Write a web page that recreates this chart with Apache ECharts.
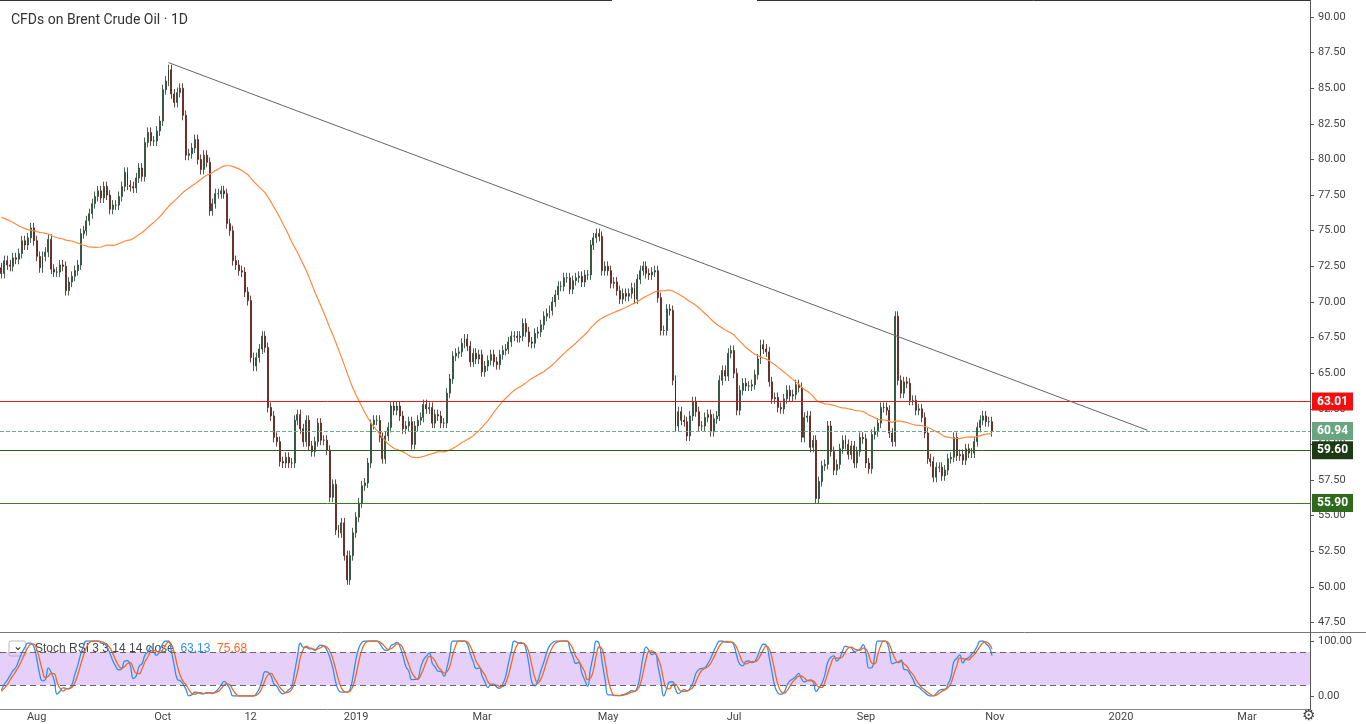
<!DOCTYPE html>
<html>
<head>
<meta charset="utf-8">
<script src="https://cdn.jsdelivr.net/npm/echarts@6/dist/echarts.min.js"></script>
<style>html,body{margin:0;padding:0;background:#fff}#c{width:1366px;height:724px}</style>
</head>
<body>
<div id="c"></div>
<script>
// closes before the visible range (only used to warm up the MA and the Stoch RSI)
var seedCloses = [76.4,76.9,77.5,78.2,79.3,79.6,79.0,78.5,77.8,77.1,76.4,75.9,75.3,74.4,75.9,76.5,77.3,76.7,75.5,74.7,75.2,74.7,73.0,73.4,75.6,76.3,77.9,79.4,79.0,79.2,77.3,78.2,77.4,76.6,74.6,73.9,77.1,77.5,74.9,73.4,74.2,74.5,75.3,75.8,73.4,71.8,72.1,71.9,72.4];

var closes = [
  72.0,72.9,72.6,72.5,73.1,73.0,73.4,74.3,74.0,74.5,75.2,74.3,
  73.2,72.4,73.2,73.5,74.4,72.3,72.1,72.1,72.6,72.5,70.8,71.4,71.8,72.2,72.6,74.8,75.0,75.7,76.2,76.9,77.4,77.8,77.3,
  78.1,77.5,76.5,76.8,76.8,77.4,78.1,79.1,78.2,78.1,78.0,78.7,79.4,78.8,81.2,81.9,81.3,81.3,82.0,82.7,
  84.9,85.5,86.3,84.6,84.0,84.7,85.0,83.1,80.3,80.4,80.8,81.4,80.0,79.3,80.3,79.8,76.4,76.9,77.6,77.6,77.8,77.6,75.5,
  75.0,72.9,72.6,72.2,72.1,70.7,70.1,66.1,65.5,66.1,66.7,67.6,66.8,62.6,62.0,60.5,60.2,58.8,58.7,59.1,58.7,58.7,
  61.7,62.1,61.1,60.2,61.7,59.9,59.5,60.2,61.5,60.3,60.3,59.6,56.3,57.2,54.0,53.8,54.5,52.2,50.5,52.2,53.8,
  54.9,55.9,57.1,57.3,58.7,61.4,61.7,61.7,60.5,59.0,60.6,61.2,62.7,62.4,62.7,62.0,61.1,61.3,61.6,60.0,61.3,61.7,61.9,
  62.8,62.5,62.6,61.5,62.1,62.0,61.5,61.5,63.6,64.6,66.2,66.4,66.5,67.1,67.4,66.9,65.8,66.4,66.0,66.3,
  65.1,65.5,65.9,66.3,65.8,65.6,66.3,66.6,66.7,67.2,67.6,67.6,67.5,67.6,68.5,67.9,67.2,67.1,67.8,67.9,68.4,
  69.0,69.2,69.4,70.0,70.5,71.1,71.1,71.7,71.7,70.9,71.5,71.7,71.8,71.4,71.9,71.9,74.0,74.5,74.8,74.6,72.2,72.5,
  72.2,71.3,71.4,70.8,70.2,70.6,70.4,70.6,71.0,70.2,71.6,72.2,72.5,72.0,71.9,72.1,72.2,70.3,68.0,68.0,69.5,69.4,64.5,
  61.3,62.3,61.7,61.6,60.6,62.0,63.0,62.3,61.3,61.3,61.9,62.1,60.9,61.8,62.0,64.5,65.2,64.8,66.4,66.6,
  65.0,62.4,63.8,64.3,64.1,64.1,64.2,64.9,66.0,67.0,66.7,66.5,64.4,63.2,63.3,62.6,62.5,63.2,63.8,63.4,63.5,64.2,64.0,
  60.5,61.9,62.0,59.8,60.3,56.2,57.4,58.5,58.6,61.3,59.5,58.2,58.6,59.7,60.3,60.0,59.3,59.9,58.7,59.5,60.5,60.4,
  58.7,58.3,60.7,60.9,61.5,62.6,62.6,62.4,60.8,60.2,69.0,64.5,63.6,64.4,64.3,63.1,63.1,62.4,62.5,61.9,60.8,
  59.0,58.8,57.7,58.4,58.4,57.8,58.2,59.0,59.1,60.5,59.2,59.3,58.9,59.7,59.4,59.4,60.2,61.2,61.7,62.0,61.6,61.6,60.9
];
var levels = [63.01, 59.60, 55.90];
var lastPrice = 60.94;
var trendStart = ['2018-10-03', 86.8];
var trendEnd = ['2020-01-14', 61.0];
var tickMonths = ['2018-08','2018-10','2018-11-12','2019-01','2019-03','2019-05','2019-07','2019-09','2019-11','2020-01','2020-03'];
var tickNames = ['Aug','Oct','12','2019','Mar','May','Jul','Sep','Nov','2020','Mar'];

// trading days (weekdays) from 2018-07-16 to 2020-03-31
var dates = [];
var d = new Date(Date.UTC(2018, 6, 16));
var endD = new Date(Date.UTC(2020, 2, 31));
while (d <= endD) {
  var wd = d.getUTCDay();
  if (wd !== 0 && wd !== 6) dates.push(d.toISOString().slice(0, 10));
  d.setUTCDate(d.getUTCDate() + 1);
}
var tickIdx = {};
tickMonths.forEach(function (m, i) {
  for (var k = 0; k < dates.length; k++) {
    if (dates[k] >= (m.length === 7 ? m + '-01' : m)) { tickIdx[k] = tickNames[i]; break; }
  }
});

// candles: open from prior close, wicks just past the body
var candles = closes.map(function (c, i) {
  var o = i === 0 ? seedCloses[seedCloses.length - 1] : closes[i - 1];
  var hi = Math.max(o, c) + 0.35, lo = Math.min(o, c) - 0.35;
  return [o, c, lo, hi];
});

var all = seedCloses.concat(closes);
var off = seedCloses.length;
function sma(arr, n, i) { var s = 0; for (var k = i - n + 1; k <= i; k++) s += arr[k]; return s / n; }
var ma = closes.map(function (c, i) { return +sma(all, 50, i + off).toFixed(2); });

// Stoch RSI 3 3 14 14
var rsi = [], ag = 0, al = 0;
for (var i = 1; i < all.length; i++) {
  var ch = all[i] - all[i - 1], g = Math.max(ch, 0), l = Math.max(-ch, 0);
  if (i <= 14) { ag += g / 14; al += l / 14; } else { ag = (ag * 13 + g) / 14; al = (al * 13 + l) / 14; }
  rsi[i] = i >= 14 ? (al === 0 ? 100 : 100 - 100 / (1 + ag / al)) : null;
}
var st = [];
for (i = 27; i < all.length; i++) {
  var w = rsi.slice(i - 13, i + 1), mn = Math.min.apply(null, w), mx = Math.max.apply(null, w);
  st[i] = mx === mn ? 50 : (rsi[i] - mn) / (mx - mn) * 100;
}
var kk = [], dd = [];
for (i = 29; i < all.length; i++) kk[i] = (st[i] + st[i - 1] + st[i - 2]) / 3;
for (i = 31; i < all.length; i++) dd[i] = (kk[i] + kk[i - 1] + kk[i - 2]) / 3;
var kLine = closes.map(function (c, i) { return +kk[i + off].toFixed(2); });
var dLine = closes.map(function (c, i) { return +dd[i + off].toFixed(2); });

function lvl(v, col, bg, type) {
  return {
    yAxis: v, lineStyle: { color: col, width: 1, type: type || 'solid' },
    label: { show: true, position: 'end', formatter: v.toFixed(2), color: '#fff', backgroundColor: bg,
             padding: [3, 5], fontSize: 12, fontWeight: 'bold', distance: 2 }
  };
}

var chart = echarts.init(document.getElementById('c'));
chart.setOption({
  animation: false,
  backgroundColor: '#fff',
  textStyle: { fontFamily: 'Roboto, sans-serif' },
  title: { text: 'CFDs on Brent Crude Oil · 1D', left: 6, top: 8,
           textStyle: { fontSize: 14, fontWeight: 'normal', color: '#333' } },
  grid: [
    { left: 0, right: 56, top: 17, bottom: 101.4 },
    { left: 0, right: 56, top: 641, height: 55 }
  ],
  xAxis: [
    { type: 'category', data: dates, gridIndex: 0, show: false, boundaryGap: true },
    { type: 'category', data: dates, gridIndex: 1, boundaryGap: true,
      axisLine: { show: false }, axisTick: { show: false },
      axisLabel: { interval: function (idx) { return tickIdx[idx] !== undefined; },
                   formatter: function (v, idx) { return tickIdx[idx] || ''; },
                   color: '#444', fontSize: 11, margin: 16 } }
  ],
  yAxis: [
    { gridIndex: 0, position: 'right', min: 47.5, max: 90, interval: 2.5, scale: true,
      splitLine: { show: false }, axisTick: { show: true, length: 4, lineStyle: { color: '#555' } },
      axisLine: { show: true, lineStyle: { color: '#555' } },
      axisLabel: { formatter: function (v) { return v.toFixed(2); }, color: '#444', fontSize: 11, margin: 8 } },
    { gridIndex: 1, position: 'right', min: 0, max: 100, interval: 100,
      splitLine: { show: false }, axisTick: { show: true, length: 4, lineStyle: { color: '#555' } },
      axisLine: { show: true, lineStyle: { color: '#555' } },
      axisLabel: { formatter: function (v) { return v.toFixed(2); }, color: '#444', fontSize: 11, margin: 8 } }
  ],
  series: [
    { type: 'candlestick', xAxisIndex: 0, yAxisIndex: 0, data: candles, barMaxWidth: 6,
      itemStyle: { color: '#53a06e', color0: '#d9432f', borderColor: '#1c3b28', borderColor0: '#4a1510', borderWidth: 0.8 },
      markLine: { symbol: 'none', silent: true, animation: false,
        data: [
          lvl(levels[0], '#e01b1b', '#f01010'),
          lvl(lastPrice, '#6aae86', '#6aa582', 'dashed'),
          lvl(levels[1], '#2e5d1e', '#1e3a14'),
          lvl(levels[2], '#3a7a22', '#2f6a1c'),
          [ { coord: trendStart, lineStyle: { color: '#666', width: 1, type: 'solid' }, label: { show: false } },
            { coord: trendEnd } ]
        ] } },
    { type: 'line', xAxisIndex: 0, yAxisIndex: 0, data: ma, showSymbol: false, smooth: false,
      lineStyle: { color: '#ff8a3d', width: 1.2 } },
    { type: 'line', xAxisIndex: 1, yAxisIndex: 1, data: kLine, showSymbol: false, smooth: true,
      lineStyle: { color: '#2f8ff5', width: 1.3 },
      markArea: { silent: true, itemStyle: { color: 'rgba(200,150,245,0.45)' }, data: [[{ yAxis: 20 }, { yAxis: 80 }]] },
      markLine: { symbol: 'none', silent: true, label: { show: false },
        lineStyle: { color: '#666', type: [6, 4], width: 1 }, data: [{ yAxis: 80 }, { yAxis: 20 }] } },
    { type: 'line', xAxisIndex: 1, yAxisIndex: 1, data: dLine, showSymbol: false, smooth: true,
      lineStyle: { color: '#f5681e', width: 1.3 } }
  ],
  graphic: [
    { type: 'line', shape: { x1: 0, y1: 0.5, x2: 612, y2: 0.5 }, style: { stroke: '#333', lineWidth: 1 } },
    { type: 'line', shape: { x1: 757, y1: 0.5, x2: 1310, y2: 0.5 }, style: { stroke: '#333', lineWidth: 1 } },
    { type: 'line', shape: { x1: 0, y1: 632.5, x2: 1366, y2: 632.5 }, style: { stroke: '#777', lineWidth: 1 } },
    { type: 'line', shape: { x1: 1310.5, y1: 0, x2: 1310.5, y2: 710 }, style: { stroke: '#555', lineWidth: 1 } },
    { type: 'line', shape: { x1: 0, y1: 709.5, x2: 1310, y2: 709.5 }, style: { stroke: '#888', lineWidth: 1 } },
    { type: 'rect', shape: { x: 9, y: 641, width: 17, height: 15, r: 2 }, style: { fill: '#fff', stroke: '#bbb' } },
    { type: 'text', left: 13, top: 641, style: { text: '⌄', fontSize: 12, fill: '#333' } },
    { type: 'text', left: 35, top: 643, style: {
        text: '{a|Stoch RSI 3 3 14 14 close}  {b|63.13}  {c|75.68}',
        rich: { a: { fontSize: 12, fill: '#444' }, b: { fontSize: 12, fill: '#2f8ff5' }, c: { fontSize: 12, fill: '#f5681e' } } } },
    { type: 'text', left: 1302, top: 708, style: { text: '⚙', fontSize: 15, fill: '#444' } }
  ]
});
</script>
</body>
</html>
